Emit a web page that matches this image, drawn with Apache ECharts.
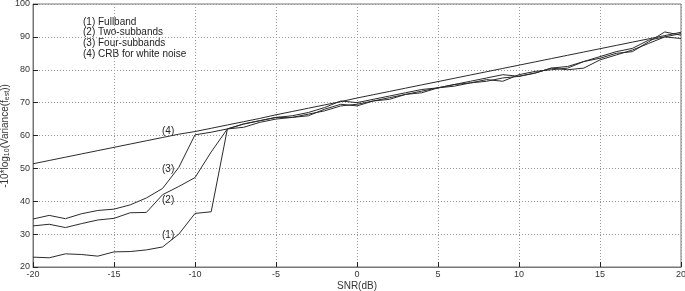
<!DOCTYPE html>
<html><head><meta charset="utf-8">
<script src="https://cdn.jsdelivr.net/npm/echarts@6/dist/echarts.min.js"></script>
<style>html,body{margin:0;padding:0;background:#fff}#c{width:685px;height:291px}</style>
</head><body><div id="c"></div>
<script>
var snr = [-20,-19,-18,-17,-16,-15,-14,-13,-12,-11,-10,-9,-8,-7,-6,-5,-4,-3,-2,-1,0,1,2,3,4,5,6,7,8,9,10,11,12,13,14,15,16,17,18,19,20];
var fullband = [23,22.8,24,23.8,23.3,24.6,24.7,25.2,26.1,30,36.3,36.8,62,63.5,64.5,65.5,65.5,66.5,67.5,69,69.5,70.5,71.5,72.5,73.5,74.5,75.5,76,76.5,77.5,78,79,80.5,80,80.5,83,84.5,86,88,90,89.5];
var twoSub = [32.5,33,32,33.2,34.3,34.8,36.5,36.6,42,44.5,47.2,55,62,62.5,64,65,65.5,66,68,69.5,69,70.5,71,72.5,73,74.5,75,76,77,76.5,78.5,79.5,80,80.5,82.5,83.5,85,85.5,88.5,91.5,90.5];
var fourSub = [34.6,35.7,34.7,36.2,37.2,37.6,38.9,41,43.9,50.3,60.2,61,62,63.5,64.5,65.5,66,67,68.5,70.5,70,71,72,73,74,74.5,75.5,76.5,77.5,78.5,78,79,80.5,81,82.5,84,85.5,86.5,89,90,91];
var crb = [51.4,52.4,53.4,54.4,55.4,56.4,57.4,58.4,59.4,60.4,61.2,62.2,63.2,64.2,65.2,66.3,67.3,68.3,69.3,70.3,71.4,72.4,73.4,74.4,75.4,76.4,77.4,78.4,79.4,80.4,81.4,82.4,83.4,84.4,85.4,86.4,87.4,88.4,89.4,90.4,91.4];
var legendLines = ['(1) Fullband','(2) Two-subbands','(3) Four-subbands','(4) CRB for white noise'];
var curveTags = ['(1)','(2)','(3)','(4)'];

function pairs(v){ return snr.map(function(x,i){ return [x, v[i]]; }); }
var font = 'Liberation Sans, Arial, sans-serif';
var chart = echarts.init(document.getElementById('c'));
var lineStyle = {color:'#2a2a2a', width:1};
function ser(name, v){ return {name:name, type:'line', data:pairs(v), symbol:'none', lineStyle:lineStyle, animation:false}; }
var g = [];
legendLines.forEach(function(t,i){
  g.push({type:'text', left:83, top:17 + i*10.6, style:{text:t, font:'10px '+font, fill:'#222'}});
});
var tagPos = [[162,230],[162,195],[162,164],[162,126]];
curveTags.forEach(function(t,i){
  g.push({type:'text', left:tagPos[i][0], top:tagPos[i][1], style:{text:t, font:'10px '+font, fill:'#222'}});
});
// y-axis title as rotated rich text
g.push({type:'text', x:5, y:136, rotation:Math.PI/2,
  style:{text:'{a|-10*log}{s|10}{a|(Variance(f}{s|est}{a|))}', align:'center', verticalAlign:'middle',
    rich:{a:{font:'10px '+font, fill:'#333'}, s:{font:'7px '+font, fill:'#333', padding:[5,0,0,0]}}}});
chart.setOption({
  animation:false,
  grid:{left:33, right:4, top:4, bottom:24, show:true, borderColor:'#777', borderWidth:1, containLabel:false, outerBoundsMode:'none'},
  xAxis:{type:'value', min:-20, max:20, interval:5,
    name:'SNR(dB)', nameLocation:'middle', nameGap:14, nameMoveOverlap:false, nameTextStyle:{fontFamily:font, fontSize:10, color:'#333'},
    axisLine:{show:true, onZero:false, lineStyle:{color:'#777'}}, axisTick:{inside:true, length:5, lineStyle:{color:'#222'}},
    axisLabel:{fontFamily:font, fontSize:9, color:'#333', margin:3},
    splitLine:{show:true, lineStyle:{type:[1,2], color:'#999'}}},
  yAxis:{type:'value', min:20, max:100, interval:10,
    axisLine:{show:true, onZero:false, lineStyle:{color:'#777'}}, axisTick:{inside:true, length:5, lineStyle:{color:'#222'}},
    axisLabel:{fontFamily:font, fontSize:9, color:'#333', margin:3},
    splitLine:{show:true, lineStyle:{type:[1,2], color:'#999'}}},
  graphic:g,
  series:[ser('Fullband', fullband), ser('Two-subbands', twoSub), ser('Four-subbands', fourSub), ser('CRB', crb)]
});
</script></body></html>
